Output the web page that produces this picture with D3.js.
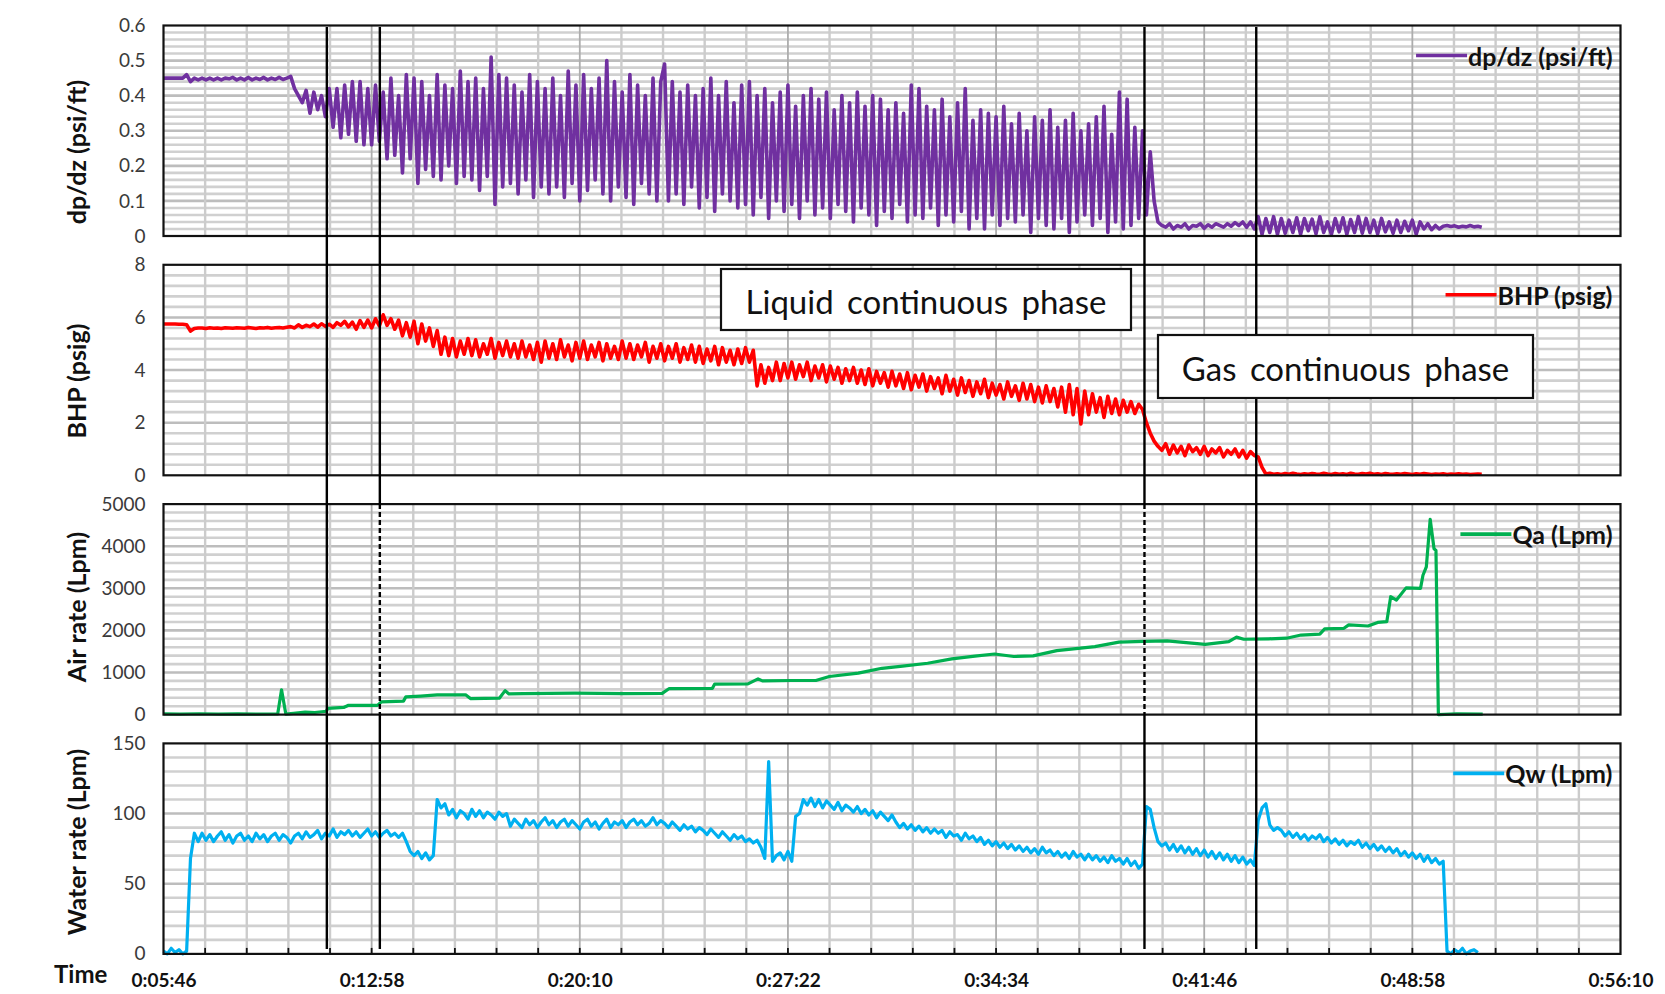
<!DOCTYPE html>
<html>
<head>
<meta charset="utf-8">
<script src="https://cdn.jsdelivr.net/npm/d3@7"></script>
<style>
  body { margin: 0; background: #fff; }
  text { font-family: Lato, "Noto Sans", sans-serif; }
</style>
</head>
<body>
<script>
const d3 = window.d3;

// samples are logged every 8 s starting at 0:05:46
const startSec = 346;
const sampleSec = 8;

const dpdz = [
  .45,.45,.45,.45,.45,.45,.46,.44,.45,.445,
  .45,.445,.45,.445,.45,.445,.45,.448,.452,.445,
  .45,.445,.452,.445,.45,.446,.452,.445,.45,.446,
  .452,.446,.45,.455,.42,.40,.38,.415,.35,.41,
  .36,.40,.34,.42,.31,.42,.28,.43,.29,.44,
  .27,.44,.26,.42,.26,.43,.27,.41,.22,.45,
  .23,.40,.18,.46,.22,.45,.15,.44,.19,.40,
  .17,.46,.16,.43,.20,.42,.15,.47,.17,.44,
  .16,.45,.13,.42,.17,.51,.09,.46,.14,.45,
  .15,.43,.12,.41,.16,.46,.11,.44,.14,.42,
  .12,.45,.14,.40,.11,.47,.15,.43,.10,.46,
  .13,.42,.16,.45,.12,.50,.10,.44,.14,.41,
  .11,.46,.09,.43,.15,.40,.12,.45,.10,.44,
  .49,.10,.44,.12,.41,.09,.43,.14,.40,.08,
  .42,.11,.45,.07,.40,.12,.44,.10,.38,.08,
  .43,.09,.44,.06,.40,.11,.42,.05,.38,.10,
  .41,.07,.43,.09,.37,.05,.40,.10,.42,.06,
  .39,.08,.41,.05,.36,.09,.40,.07,.38,.04,
  .41,.08,.37,.06,.40,.03,.39,.07,.36,.05,
  .38,.09,.35,.04,.43,.06,.42,.05,.37,.08,
  .36,.03,.39,.06,.34,.04,.38,.07,.42,.02,
  .33,.05,.36,.02,.35,.06,.34,.03,.37,.05,
  .32,.04,.35,.06,.30,.01,.34,.05,.33,.03,
  .36,.02,.31,.05,.33,.01,.35,.04,.30,.06,
  .32,.03,.34,.05,.37,.01,.29,.04,.41,.02,
  .39,.03,.31,.05,.30,.06,.24,.10,.04,.03,
  .025,.035,.02,.03,.025,.035,.02,.03,.028,.035,
  .022,.032,.025,.035,.03,.025,.035,.028,.038,.03,
  .04,.025,.04,.02,.055,.005,.05,.01,.055,.005,
  .05,.008,.045,.01,.052,.005,.05,.015,.048,.006,
  .055,.01,.04,.005,.05,.012,.052,.005,.047,.01,
  .055,.008,.05,.01,.045,.006,.05,.012,.04,.008,
  .045,.01,.042,.015,.045,.005,.04,.02,.035,.018,
  .03,.02,.028,.03,.027,.029,.025,.028,.026,.03,
  .026,.028,.025
];

const bhp = [
  5.75,5.75,5.75,5.75,5.74,5.74,5.72,5.48,5.58,5.6,
  5.6,5.58,5.61,5.59,5.6,5.58,5.61,5.6,5.59,5.61,
  5.6,5.59,5.62,5.6,5.58,5.61,5.6,5.62,5.59,5.61,
  5.62,5.6,5.63,5.65,5.6,5.72,5.62,5.7,5.65,5.75,
  5.63,5.76,5.66,5.74,5.62,5.8,5.7,5.85,5.64,5.82,
  5.55,5.88,5.62,5.9,5.6,5.95,5.68,6.1,5.7,5.95,
  5.55,5.9,5.3,5.8,5.25,5.85,5.0,5.75,5.1,5.6,
  4.9,5.5,4.6,5.25,4.55,5.2,4.5,5.1,4.6,5.2,
  4.55,5.15,4.5,5.0,4.6,5.2,4.45,5.05,4.55,5.1,
  4.5,5.0,4.45,5.1,4.5,4.95,4.4,5.05,4.3,5.1,
  4.45,5.0,4.4,5.15,4.5,4.95,4.35,5.05,4.45,5.1,
  4.4,4.95,4.5,5.05,4.35,5.0,4.45,4.9,4.4,5.1,
  4.45,5.0,4.4,4.95,4.5,5.05,4.3,4.9,4.45,5.0,
  4.35,4.9,4.45,5.0,4.3,4.85,4.4,4.95,4.3,4.9,
  4.25,4.8,4.35,4.9,4.2,4.85,4.3,4.75,4.2,4.8,
  4.25,4.85,4.3,4.75,3.4,4.2,3.5,4.1,3.6,4.3,
  3.6,4.25,3.7,4.3,3.65,4.2,3.75,4.3,3.6,4.15,
  3.7,4.2,3.55,4.15,3.65,4.1,3.5,4.05,3.6,4.1,
  3.5,4.0,3.45,4.05,3.4,3.95,3.5,3.9,3.35,3.95,
  3.4,3.85,3.3,3.9,3.25,3.8,3.35,3.85,3.2,3.75,
  3.3,3.7,3.1,3.8,3.2,3.65,3.05,3.7,3.15,3.6,
  3.0,3.55,3.1,3.65,2.95,3.5,3.05,3.45,2.9,3.55,
  3.0,3.4,2.85,3.5,2.9,3.45,2.8,3.35,2.75,3.4,
  2.8,3.3,2.6,3.35,2.4,3.45,2.3,3.3,1.95,3.2,
  2.3,3.1,2.4,2.95,2.2,3.0,2.35,2.9,2.3,2.85,
  2.4,2.8,2.35,2.7,2.5,2.0,1.6,1.3,1.1,0.95,
  1.2,0.8,1.15,0.85,1.1,0.75,1.15,0.9,1.05,0.8,
  1.1,0.75,1.0,0.85,1.05,0.7,0.95,0.8,1.0,0.7,
  0.95,0.65,0.9,0.75,0.7,0.3,0.05,0.08,0.04,0.06,
  0.03,0.07,0.04,0.08,0.05,0.03,0.06,0.04,0.07,0.05,
  0.04,0.08,0.05,0.03,0.07,0.04,0.06,0.03,0.08,0.05,
  0.04,0.07,0.05,0.08,0.04,0.06,0.03,0.07,0.05,0.04,
  0.06,0.04,0.07,0.05,0.03,0.06,0.04,0.07,0.05,0.03,
  0.05,0.04,0.06,0.03,0.05,0.04,0.06,0.04,0.05,0.03,
  0.04,0.05,0.04
];

const qw = [
  2,0,4,1,3,0,2,68,86,80,
  86,81,85,80,84,87,81,85,79,84,
  86,81,84,80,86,82,85,80,84,86,
  81,85,83,79,84,86,82,87,83,85,
  88,82,86,84,89,83,87,85,88,84,
  87,83,86,89,84,87,83,86,88,84,
  86,83,86,80,73,70,73,68,72,67,
  70,110,104,107,99,103,97,102,100,96,
  103,98,102,97,101,99,96,101,98,100,
  91,96,93,90,96,92,95,90,94,97,
  92,95,90,94,96,91,95,92,89,94,
  96,91,94,89,93,96,90,94,92,95,
  90,94,96,92,95,91,93,97,92,95,
  93,90,94,91,88,92,89,91,87,90,
  88,85,89,86,83,87,84,81,85,82,
  84,80,82,79,81,76,68,137,66,70,
  72,67,73,66,98,100,110,106,111,105,
  110,104,109,106,103,108,102,106,104,101,
  105,100,103,99,102,97,101,98,95,99,
  94,90,93,89,92,88,91,87,90,86,
  89,86,88,83,87,84,85,81,86,82,
  84,80,83,78,81,77,80,76,79,75,
  78,74,77,73,76,72,75,71,76,72,
  74,70,73,69,72,68,73,69,71,67,
  71,67,70,66,69,65,70,66,68,64,
  68,63,66,61,64,105,103,90,80,77,
  79,74,78,73,77,72,76,71,75,70,
  74,69,73,68,72,67,71,66,70,65,
  69,64,67,63,95,104,107,92,88,90,
  88,84,87,83,86,82,85,81,84,82,
  85,80,83,79,82,78,81,77,80,78,
  81,76,79,75,78,74,77,73,76,72,
  75,70,73,69,72,68,71,66,70,65,
  68,64,66,2,0,3,1,4,0,2,
  3,1
];

// air rate is mostly stepwise, so it is kept as time / value pairs
const qaTime = [346,380,420,460,500,540,583,591,600,616,640,660,684,687,720,730,790,798,844,849,
  880,914,973,983,1043,1055,1063,1093,1200,1300,1381,1395,1485,1490,1559,1580,1589,1650,1700,1728,
  1788,1837,1880,1932,1982,2030,2071,2111,2151,2200,2279,2329,2380,2429,2508,2557,2573,2588,2640,2677,
  2707,2746,2756,2796,2806,2846,2866,2885,2893,2905,2925,2955,2960,2967,2975,2983,2987,2992,3030,3084];
const qaValue = [15,10,20,12,18,12,15,590,10,30,60,50,80,150,170,220,220,300,320,420,
  440,470,470,380,390,570,490,500,510,500,505,615,620,725,730,850,800,810,810,905,
  985,1100,1150,1220,1325,1390,1440,1380,1395,1520,1615,1720,1740,1750,1670,1735,1840,1790,1800,1815,
  1890,1910,2035,2050,2130,2105,2190,2210,2800,2720,3010,3000,3310,3510,4640,3940,3900,0,15,10];

const phaseLines = [685, 795, 2382, 2614];
const phaseDashedInAir = [false, true, true, false];

const timeTicks = [346, 778, 1210, 1642, 2074, 2506, 2938, 3370];
const timeTickLabels = ["0:05:46", "0:12:58", "0:20:10", "0:27:22", "0:34:34", "0:41:46", "0:48:58", "0:56:10"];
const timeMinorSec = 86.4;

const dpdzTicks = [0, 0.1, 0.2, 0.3, 0.4, 0.5, 0.6];
const bhpTicks = [0, 2, 4, 6, 8];
const qaTicks = [0, 1000, 2000, 3000, 4000, 5000];
const qwTicks = [0, 50, 100, 150];

const W = 1665, H = 994;
const margin = {left: 163.5, top: 25.5};
const plotW = 1457, plotH = 210.5, panelStep = 239.3;

const svg = d3.select("body").append("svg")
    .attr("width", W)
    .attr("height", H);

const x = d3.scaleLinear()
    .domain([timeTicks[0], timeTicks[timeTicks.length - 1]])
    .range([margin.left, margin.left + plotW]);

const sampleTimes = vals => vals.map((_, i) => startSec + i * sampleSec);
const minorTimes = d3.range(0, Math.round((timeTicks[7] - timeTicks[0]) / timeMinorSec) + 1)
    .map(k => timeTicks[0] + k * timeMinorSec);

const panels = [
    {times: sampleTimes(dpdz), values: dpdz, ticks: dpdzTicks, minor: 0.02, color: "#7030A0",
     width: 3.6, title: "dp/dz (psi/ft)", titleY: 152, fmt: d => String(+d.toFixed(1))},
    {times: sampleTimes(bhp), values: bhp, ticks: bhpTicks, minor: 0.4, color: "#FF0000",
     width: 3.6, title: "BHP (psig)", titleY: 381, fmt: d => d},
    {times: qaTime, values: qaValue, ticks: qaTicks, minor: 200, color: "#00B050",
     width: 3.2, title: "Air rate (Lpm)", titleY: 607, fmt: d => d},
    {times: sampleTimes(qw), values: qw, ticks: qwTicks, minor: 10, color: "#00B0F0",
     width: 3.2, title: "Water rate (Lpm)", titleY: 842, fmt: d => d}
];
const legendNames = ["dp/dz (psi/ft)", "BHP (psig)", "Qa (Lpm)", "Qw (Lpm)"];

const panelTops = [];

panels.forEach((p, i) => {
    const top = margin.top + i * panelStep;
    panelTops.push(top);
    const yMax = p.ticks[p.ticks.length - 1];
    const y = d3.scaleLinear().domain([0, yMax]).range([top + plotH, top]);
    const g = svg.append("g");

    // horizontal gridlines (minor, every 5th a bit darker)
    const nMinor = Math.round(yMax / p.minor);
    g.selectAll(".hg")
        .data(d3.range(1, nMinor))
        .join("line")
            .attr("x1", margin.left).attr("x2", margin.left + plotW)
            .attr("y1", k => y(k * p.minor)).attr("y2", k => y(k * p.minor))
            .attr("stroke", k => k % 5 === 0 ? "#bdbdbd" : "#d0d0d0")
            .attr("stroke-width", 2.6);

    // vertical gridlines
    g.selectAll(".vg")
        .data(minorTimes.slice(1, -1))
        .join("line")
            .attr("x1", d => x(d)).attr("x2", d => x(d))
            .attr("y1", top).attr("y2", top + plotH)
            .attr("stroke", (d, k) => (k + 1) % 5 === 0 ? "#adadad" : "#cccccc")
            .attr("stroke-width", (d, k) => (k + 1) % 5 === 0 ? 1.8 : 2.4);

    // y axis labels
    g.append("g")
        .attr("transform", `translate(${margin.left},0)`)
        .call(d3.axisLeft(y).tickValues(p.ticks).tickSize(0).tickPadding(18).tickFormat(p.fmt))
        .call(a => a.select(".domain").remove())
        .selectAll("text")
            .attr("font-size", 19)
            .attr("fill", "#3a3a3a")
            .style("font-family", "Lato, sans-serif");

    // data line
    const pts = p.values.map((v, j) => [p.times[j], v]);
    g.append("path")
        .datum(pts)
        .attr("fill", "none")
        .attr("stroke", p.color)
        .attr("stroke-width", p.width)
        .attr("stroke-linejoin", "round")
        .attr("d", d3.line().x(d => x(d[0])).y(d => y(d[1])));

    // frame
    g.append("rect")
        .attr("x", margin.left).attr("y", top)
        .attr("width", plotW).attr("height", plotH)
        .attr("fill", "none")
        .attr("stroke", "#111")
        .attr("stroke-width", 2.2);

    // legend
    const lt = g.append("text")
        .attr("x", margin.left + plotW - 8)
        .attr("y", top + 30)
        .attr("text-anchor", "end")
        .attr("dominant-baseline", "central")
        .attr("font-size", 25)
        .attr("font-weight", "bold")
        .attr("fill", "#111")
        .text(legendNames[i]);
    const bb = lt.node().getBBox();
    g.append("line")
        .attr("x1", bb.x - 52).attr("x2", bb.x - 1)
        .attr("y1", top + 30).attr("y2", top + 30)
        .attr("stroke", p.color)
        .attr("stroke-width", 3.6);

    // axis title
    svg.append("text")
        .attr("transform", `translate(76,${p.titleY}) rotate(-90)`)
        .attr("text-anchor", "middle")
        .attr("dominant-baseline", "central")
        .attr("font-size", 25)
        .attr("font-weight", "bold")
        .attr("fill", "#111")
        .text(p.title);
});

const bottom = panelTops[3] + plotH;

// time axis
svg.append("g")
    .attr("transform", `translate(0,${bottom})`)
    .call(d3.axisBottom(x).tickValues(timeTicks).tickSize(0).tickPadding(20)
        .tickFormat((d, i) => timeTickLabels[i]))
    .call(a => a.select(".domain").remove())
    .selectAll("text")
        .attr("font-size", 19)
        .attr("font-weight", "bold")
        .attr("fill", "#111")
        .style("font-family", "Lato, sans-serif");

// small inner ticks on the time axis
svg.append("g")
    .selectAll("line")
    .data(minorTimes.slice(1, -1))
    .join("line")
        .attr("x1", d => x(d)).attr("x2", d => x(d))
        .attr("y1", bottom).attr("y2", bottom - 6)
        .attr("stroke", "#111")
        .attr("stroke-width", 1.8);

svg.append("text")
    .attr("x", 54).attr("y", 983)
    .attr("font-size", 24)
    .attr("font-weight", "bold")
    .attr("fill", "#111")
    .text("Time");

// phase boundary lines
const airTop = panelTops[2], airBottom = panelTops[2] + plotH;
phaseLines.forEach((t, i) => {
    const segs = [[27, airTop, false], [airTop, airBottom, phaseDashedInAir[i]], [airBottom, 949, false]];
    svg.append("g").selectAll("line")
        .data(segs)
        .join("line")
            .attr("x1", x(t)).attr("x2", x(t))
            .attr("y1", s => s[0]).attr("y2", s => s[1])
            .attr("stroke", "#000")
            .attr("stroke-width", 2.4)
            .attr("stroke-dasharray", s => s[2] ? "5,3" : null);
});

// annotation boxes
const boxes = [
    {text: "Liquid continuous phase", x: 721, y: 269, w: 410, h: 61},
    {text: "Gas continuous phase", x: 1158, y: 335, w: 375, h: 63}
];
boxes.forEach(b => {
    svg.append("rect")
        .attr("x", b.x).attr("y", b.y)
        .attr("width", b.w).attr("height", b.h)
        .attr("fill", "#fff")
        .attr("stroke", "#111")
        .attr("stroke-width", 2.2);
    svg.append("text")
        .attr("x", b.x + b.w / 2).attr("y", b.y + b.h / 2 + 1)
        .attr("text-anchor", "middle")
        .attr("dominant-baseline", "central")
        .attr("font-size", 33)
        .attr("word-spacing", 5)
        .attr("fill", "#111")
        .text(b.text);
});
</script>
</body>
</html>
